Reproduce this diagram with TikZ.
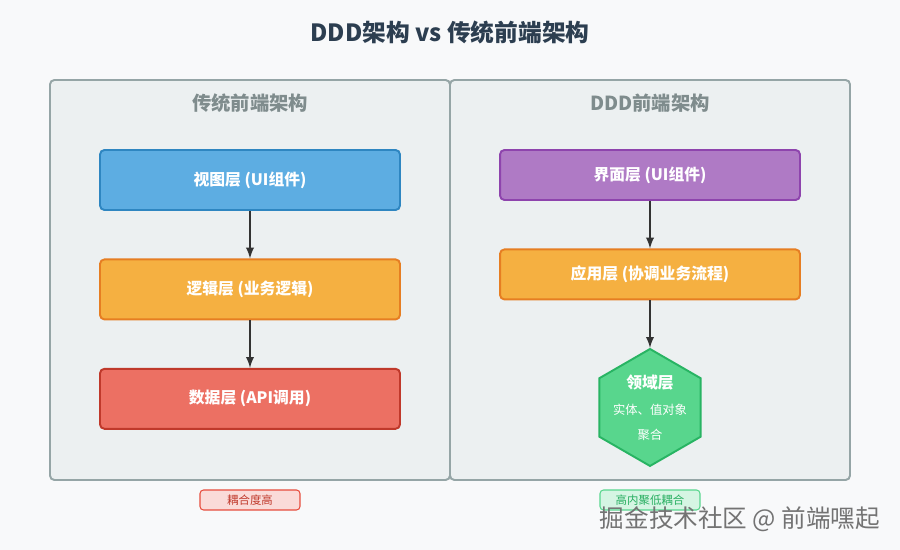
\documentclass[tikz,border=0pt]{standalone}
\usepackage{fontspec}
\setmainfont{Noto Sans CJK SC}
\usetikzlibrary{shapes, arrows, positioning, calc}
\definecolor{pagebg}{HTML}{F8F9FA}
\definecolor{headc}{HTML}{2C3E50}
\definecolor{panelbg}{HTML}{ECF0F1}
\definecolor{panelline}{HTML}{95A5A6}
\definecolor{paneltext}{HTML}{7F8C8D}
\definecolor{arrowc}{HTML}{333333}
\definecolor{viewfill}{HTML}{5DADE2}
\definecolor{viewline}{HTML}{2E86C1}
\definecolor{logicfill}{HTML}{F5B041}
\definecolor{logicline}{HTML}{E67E22}
\definecolor{datafill}{HTML}{EC7063}
\definecolor{dataline}{HTML}{C0392B}
\definecolor{uifill}{HTML}{AF7AC5}
\definecolor{uiline}{HTML}{8E44AD}
\definecolor{domfill}{HTML}{58D68D}
\definecolor{domline}{HTML}{28B463}
\definecolor{badfill}{HTML}{FADBD8}
\definecolor{badline}{HTML}{E74C3C}
\definecolor{goodfill}{HTML}{D5F5E3}
\definecolor{goodline}{HTML}{58D68D}
\definecolor{goodtext}{HTML}{27AE60}

\begin{document}
\begin{tikzpicture}[x=0.02cm, y=-0.02cm, node distance=0.95cm,
	layer/.style={draw, rounded corners=2.5pt, line width=1.1pt, text=white,
		minimum width=6cm, font=\bfseries\fontsize{9}{11}\selectfont},
	panel/.style={draw=panelline, fill=panelbg, rounded corners=2.5pt, line width=1.1pt},
	tag/.style={draw, rounded corners=2pt, line width=0.6pt, inner sep=0pt,
		minimum width=2cm, minimum height=0.4cm, font=\fontsize{6.5}{8}\selectfont},
	flow/.style={->, >=latex, line width=1.1pt, draw=arrowc}]
	\useasboundingbox[fill=pagebg] (0,0) rectangle (900,550);
	\node[text=headc, font=\bfseries\fontsize{13.5}{16}\selectfont] (title) at (450,32) {DDD架构 vs 传统前端架构};
	% two panels
	\draw[panel] (50,80) rectangle (450,480);
	\draw[panel] (450,80) rectangle (850,480);
	\node[text=paneltext, font=\bfseries\fontsize{11}{13}\selectfont] (tradtitle) at (250,103) {传统前端架构};
	\node[text=paneltext, font=\bfseries\fontsize{11}{13}\selectfont] (dddtitle) at (650,103) {DDD前端架构};
	% traditional layers
	\node[layer, fill=viewfill, draw=viewline, minimum height=1.2cm] (view) at (250,180) {视图层 (UI组件)};
	\node[layer, fill=logicfill, draw=logicline, minimum height=1.2cm, below=of view] (logic) {逻辑层 (业务逻辑)};
	\node[layer, fill=datafill, draw=dataline, minimum height=1.2cm, below=of logic] (data) {数据层 (API调用)};
	% ddd layers
	\node[layer, fill=uifill, draw=uiline, minimum height=1cm] (ui) at (650,175) {界面层 (UI组件)};
	\node[layer, fill=logicfill, draw=logicline, minimum height=1cm, below=of ui] (app) {应用层 (协调业务流程)};
	\node[regular polygon, regular polygon sides=6, shape border rotate=30, minimum size=2.34cm,
		inner sep=0pt, fill=domfill, draw=domline, line width=1.1pt, below=of app] (domain) {};
	\node[text=white, align=center, font=\fontsize{7}{14}\selectfont] (domaintext) at (domain.center)
		{{\bfseries\fontsize{9}{11}\selectfont 领域层}\\[1pt]实体、值对象\\聚合};
	\foreach \from/\to in {view/logic,logic/data,ui/app,app/domain}
		\draw[flow] (\from) -- (\to);
	% verdicts
	\node[tag, fill=badfill, draw=badline, text=dataline] (bad) at (250,500) {耦合度高};
	\node[tag, fill=goodfill, draw=goodline, text=goodtext] (good) at (650,500) {高内聚低耦合};
	\node[text=black!55, font=\fontsize{14}{16}\selectfont] (mark) at (740,519) {掘金技术社区 @ 前端嘿起};
\end{tikzpicture}
\end{document}
